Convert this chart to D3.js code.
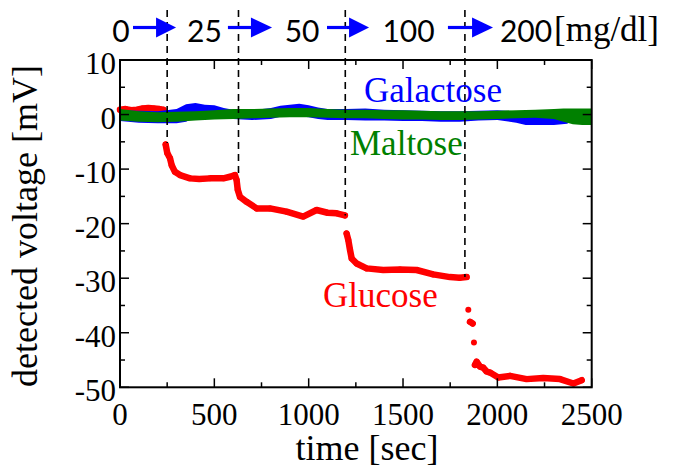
<!DOCTYPE html>
<html><head><meta charset="utf-8"><script src="https://cdn.jsdelivr.net/npm/d3@7"></script></head>
<body style="margin:0">
<svg id="s" width="674" height="469"></svg>
<script>
// ---------------- data ----------------
const xTicksMajor = [0, 500, 1000, 1500, 2000, 2500];
const xTicksMinor = [250, 750, 1250, 1750, 2250];
const yTicksMajor = [10, 0, -10, -20, -30, -40, -50];
const yTicksMinor = [5, -5, -15, -25, -35, -45];

// concentration steps (header) and injection times (dashed markers)
const concLabels = ["0", "25", "50", "100", "200"];
const concLabelTime = [5, 448, 965, 1529, 2152];
const injectionTime = [250, 628, 1194, 1828];
const injectionLevel = [-5.2, -11.2, -18.5, -29.8];
const arrowStartTime = [69, 572, 1097, 1738];
const arrowHeadTime = [191, 694, 1214, 1866];
const arrowTipTime = [297, 806, 1320, 1977];

// Glucose response (red dots)
const glucoseTime = [0, 30, 60, 90, 120, 150, 180, 210, 230,
  242, 251, 265, 274, 291, 318, 371, 420, 477, 548, 583, 609,
  618, 624, 636, 671, 724, 795, 883, 971, 1042, 1100, 1148, 1192,
  1201, 1210, 1219, 1228, 1254, 1307, 1395, 1484, 1572, 1660, 1749, 1800, 1837,
  1846, 1855, 1869, 1876, 1881, 1890, 1908, 1925, 1943, 1961, 2005, 2067, 2155, 2243, 2332, 2403, 2447];
const glucoseValue = [0.9, 1.0, 0.8, 0.9, 1.1, 1.2, 1.1, 1.0, 0.9,
  -5.5, -7.1, -8.0, -9.3, -10.5, -11.1, -11.7, -11.8, -11.7, -11.7, -11.4, -11.1,
  -12.0, -13.8, -15.1, -16.0, -17.2, -17.2, -17.8, -18.7, -17.5, -18.0, -18.1, -18.5,
  -21.8, -23.0, -24.8, -26.4, -27.3, -28.2, -28.5, -28.4, -28.5, -29.3, -29.8, -29.9, -29.8,
  -35.8, -38.0, -38.3, -41.8, -45.9, -45.3, -46.2, -46.4, -47.1, -47.3, -48.2, -47.9, -48.5, -48.3, -48.5, -49.3, -48.7];

// Galactose response (blue noisy band)
const galTime = [0, 100, 200, 300, 350, 400, 450, 500, 550, 600, 700, 800, 850, 900, 950, 1000, 1050, 1100, 1200, 1300, 1400, 1500, 1600, 1700, 1800, 1900, 2000, 2100, 2150, 2200, 2300, 2370, 2400, 2450];
const galHigh = [0.8, 0.7, 0.6, 1.0, 1.9, 2.1, 1.8, 1.7, 1.2, 0.9, 0.8, 1.2, 1.6, 1.8, 2.0, 1.7, 1.3, 1.0, 1.0, 1.1, 0.9, 0.8, 0.7, 0.6, 0.6, 0.7, 0.8, 0.6, 0.2, 0.0, -0.1, 0.0, 0.3, 0.5];
const galLow = [-1.2, -1.5, -1.6, -1.6, -1.3, -0.5, -0.3, -0.3, -0.5, -0.8, -1.0, -0.8, -0.4, -0.3, -0.3, -0.5, -0.8, -1.0, -1.0, -1.1, -1.1, -1.2, -1.2, -1.3, -1.3, -1.1, -1.0, -1.5, -1.9, -1.9, -1.9, -1.7, -1.0, -0.8];

// Maltose response (green noisy band)
const malTime = [0, 100, 200, 300, 400, 500, 600, 700, 800, 900, 1000, 1100, 1200, 1300, 1400, 1500, 1600, 1700, 1800, 1900, 2000, 2100, 2200, 2300, 2350, 2400, 2450, 2500];
const malHigh = [1.0, 0.6, 0.4, 0.5, 0.6, 0.8, 1.0, 1.0, 1.1, 1.2, 1.2, 1.0, 0.9, 0.9, 0.8, 0.8, 0.7, 0.6, 0.6, 0.6, 0.7, 0.8, 0.9, 1.0, 1.1, 1.1, 1.1, 1.1];
const malLow = [-1.1, -1.3, -1.4, -1.3, -1.1, -0.9, -0.8, -0.7, -0.6, -0.5, -0.5, -0.6, -0.7, -0.7, -0.8, -0.9, -0.9, -1.0, -1.0, -0.9, -0.8, -0.7, -0.6, -0.8, -1.3, -1.8, -1.9, -1.9];

// ---------------- layout ----------------
const s = d3.select("#s");
const plot = { left: 120, right: 591.7, top: 60, bottom: 387.3 };
const xs = d3.scaleLinear().domain([0, 2500]).range([plot.left, plot.right]);
const ys = d3.scaleLinear().domain([-50, 10]).range([plot.bottom, plot.top]);
const RED = "#ff0000", BLUE = "#0000ff", GREEN = "#008000";

// ---------------- glucose ----------------
const gData = glucoseTime.map((t, i) => ({ t, v: glucoseValue[i] }));
const runs = [];
let cur = [gData[0]];
for (let i = 1; i < gData.length; i++) {
  if (Math.abs(gData[i].v - gData[i - 1].v) < 2.1) cur.push(gData[i]);
  else { runs.push(cur); cur = [gData[i]]; }
}
runs.push(cur);
const gLine = d3.line().x(d => xs(d.t)).y(d => ys(d.v));
s.append("g").selectAll("path").data(runs.filter(r => r.length > 1)).join("path")
  .attr("d", gLine).attr("fill", "none").attr("stroke", RED)
  .attr("stroke-width", 6.5).attr("stroke-linejoin", "round").attr("stroke-linecap", "round");
s.append("g").selectAll("circle").data(gData).join("circle")
  .attr("cx", d => xs(d.t)).attr("cy", d => ys(d.v)).attr("r", 3).attr("fill", RED);

// ---------------- galactose / maltose bands ----------------
const band = d3.area().x(d => xs(d.t)).y0(d => ys(d.lo)).y1(d => ys(d.hi));
s.append("path").datum(galTime.map((t, i) => ({ t, hi: galHigh[i], lo: galLow[i] })))
  .attr("d", band).attr("fill", BLUE);
s.append("path").datum(malTime.map((t, i) => ({ t, hi: malHigh[i], lo: malLow[i] })))
  .attr("d", band).attr("fill", GREEN);

// ---------------- dashed injection markers ----------------
s.append("g").selectAll("line").data(injectionTime).join("line")
  .attr("x1", d => xs(d)).attr("x2", d => xs(d))
  .attr("y1", 10).attr("y2", (d, i) => ys(injectionLevel[i]))
  .attr("stroke", "#000").attr("stroke-width", 1.6).attr("stroke-dasharray", "7,5");

// ---------------- ticks (inward, all four sides) ----------------
const tickG = s.append("g").attr("stroke", "#000").attr("stroke-width", 1.5);
const xTickSet = xTicksMajor.map(v => ({ v, len: 9 })).concat(xTicksMinor.map(v => ({ v, len: 5 })));
const yTickSet = yTicksMajor.map(v => ({ v, len: 9 })).concat(yTicksMinor.map(v => ({ v, len: 5 })));
tickG.selectAll("line.xb").data(xTickSet).join("line").attr("class", "xb")
  .attr("x1", d => xs(d.v)).attr("x2", d => xs(d.v)).attr("y1", plot.bottom).attr("y2", d => plot.bottom - d.len);
tickG.selectAll("line.xt").data(xTickSet).join("line").attr("class", "xt")
  .attr("x1", d => xs(d.v)).attr("x2", d => xs(d.v)).attr("y1", plot.top).attr("y2", d => plot.top + d.len);
tickG.selectAll("line.yl").data(yTickSet).join("line").attr("class", "yl")
  .attr("y1", d => ys(d.v)).attr("y2", d => ys(d.v)).attr("x1", plot.left).attr("x2", d => plot.left + d.len);
tickG.selectAll("line.yr").data(yTickSet).join("line").attr("class", "yr")
  .attr("y1", d => ys(d.v)).attr("y2", d => ys(d.v)).attr("x1", plot.right).attr("x2", d => plot.right - d.len);

s.append("rect").attr("x", plot.left).attr("y", plot.top)
  .attr("width", plot.right - plot.left).attr("height", plot.bottom - plot.top)
  .attr("fill", "none").attr("stroke", "#000").attr("stroke-width", 2);

// ---------------- tick labels ----------------
s.selectAll("text.xl").data(xTicksMajor).join("text").attr("class", "xl")
  .attr("x", d => xs(d)).attr("y", plot.bottom + 38)
  .attr("font-size", 31).attr("font-family", "Liberation Serif").attr("text-anchor", "middle")
  .text(d => String(d));
s.selectAll("text.yl").data(yTicksMajor).join("text").attr("class", "yl")
  .attr("x", plot.left - 4).attr("y", d => ys(d) + 14)
  .attr("font-size", 31).attr("font-family", "Liberation Serif").attr("text-anchor", "end")
  .text(d => String(d));

// ---------------- titles ----------------
s.append("text").attr("x", 367).attr("y", 460).attr("font-size", 36)
  .attr("font-family", "Liberation Serif").attr("text-anchor", "middle").text("time [sec]");
s.append("text").attr("transform", "translate(37,226) rotate(-90)").attr("font-size", 36)
  .attr("font-family", "Liberation Serif").attr("text-anchor", "middle").text("detected voltage [mV]");

// ---------------- series labels ----------------
s.append("text").attr("x", 364).attr("y", 102).attr("font-size", 35)
  .attr("font-family", "Liberation Serif").attr("fill", BLUE).text("Galactose");
s.append("text").attr("x", 350).attr("y", 155).attr("font-size", 35)
  .attr("font-family", "Liberation Serif").attr("fill", GREEN).text("Maltose");
s.append("text").attr("x", 323).attr("y", 307).attr("font-size", 35)
  .attr("font-family", "Liberation Serif").attr("fill", RED).text("Glucose");

// ---------------- header ----------------
s.selectAll("text.conc").data(concLabels).join("text").attr("class", "conc")
  .attr("x", (d, i) => xs(concLabelTime[i])).attr("y", 42)
  .attr("font-size", 30).attr("font-family", "Lato").attr("text-anchor", "middle")
  .text(d => d);
s.append("text").attr("x", 554).attr("y", 41).attr("font-size", 35)
  .attr("font-family", "Liberation Serif").text("[mg/dl]");
const arrowY = 27.5;
s.selectAll("line.arr").data(arrowStartTime).join("line").attr("class", "arr")
  .attr("x1", d => xs(d)).attr("x2", (d, i) => xs(arrowHeadTime[i]) + 1)
  .attr("y1", arrowY).attr("y2", arrowY)
  .attr("stroke", BLUE).attr("stroke-width", 3.2);
s.selectAll("path.head").data(arrowHeadTime).join("path").attr("class", "head")
  .attr("d", (d, i) => `M${xs(d)},${arrowY - 10}L${xs(arrowTipTime[i])},${arrowY}L${xs(d)},${arrowY + 10}Z`)
  .attr("fill", BLUE);
</script></body></html>
